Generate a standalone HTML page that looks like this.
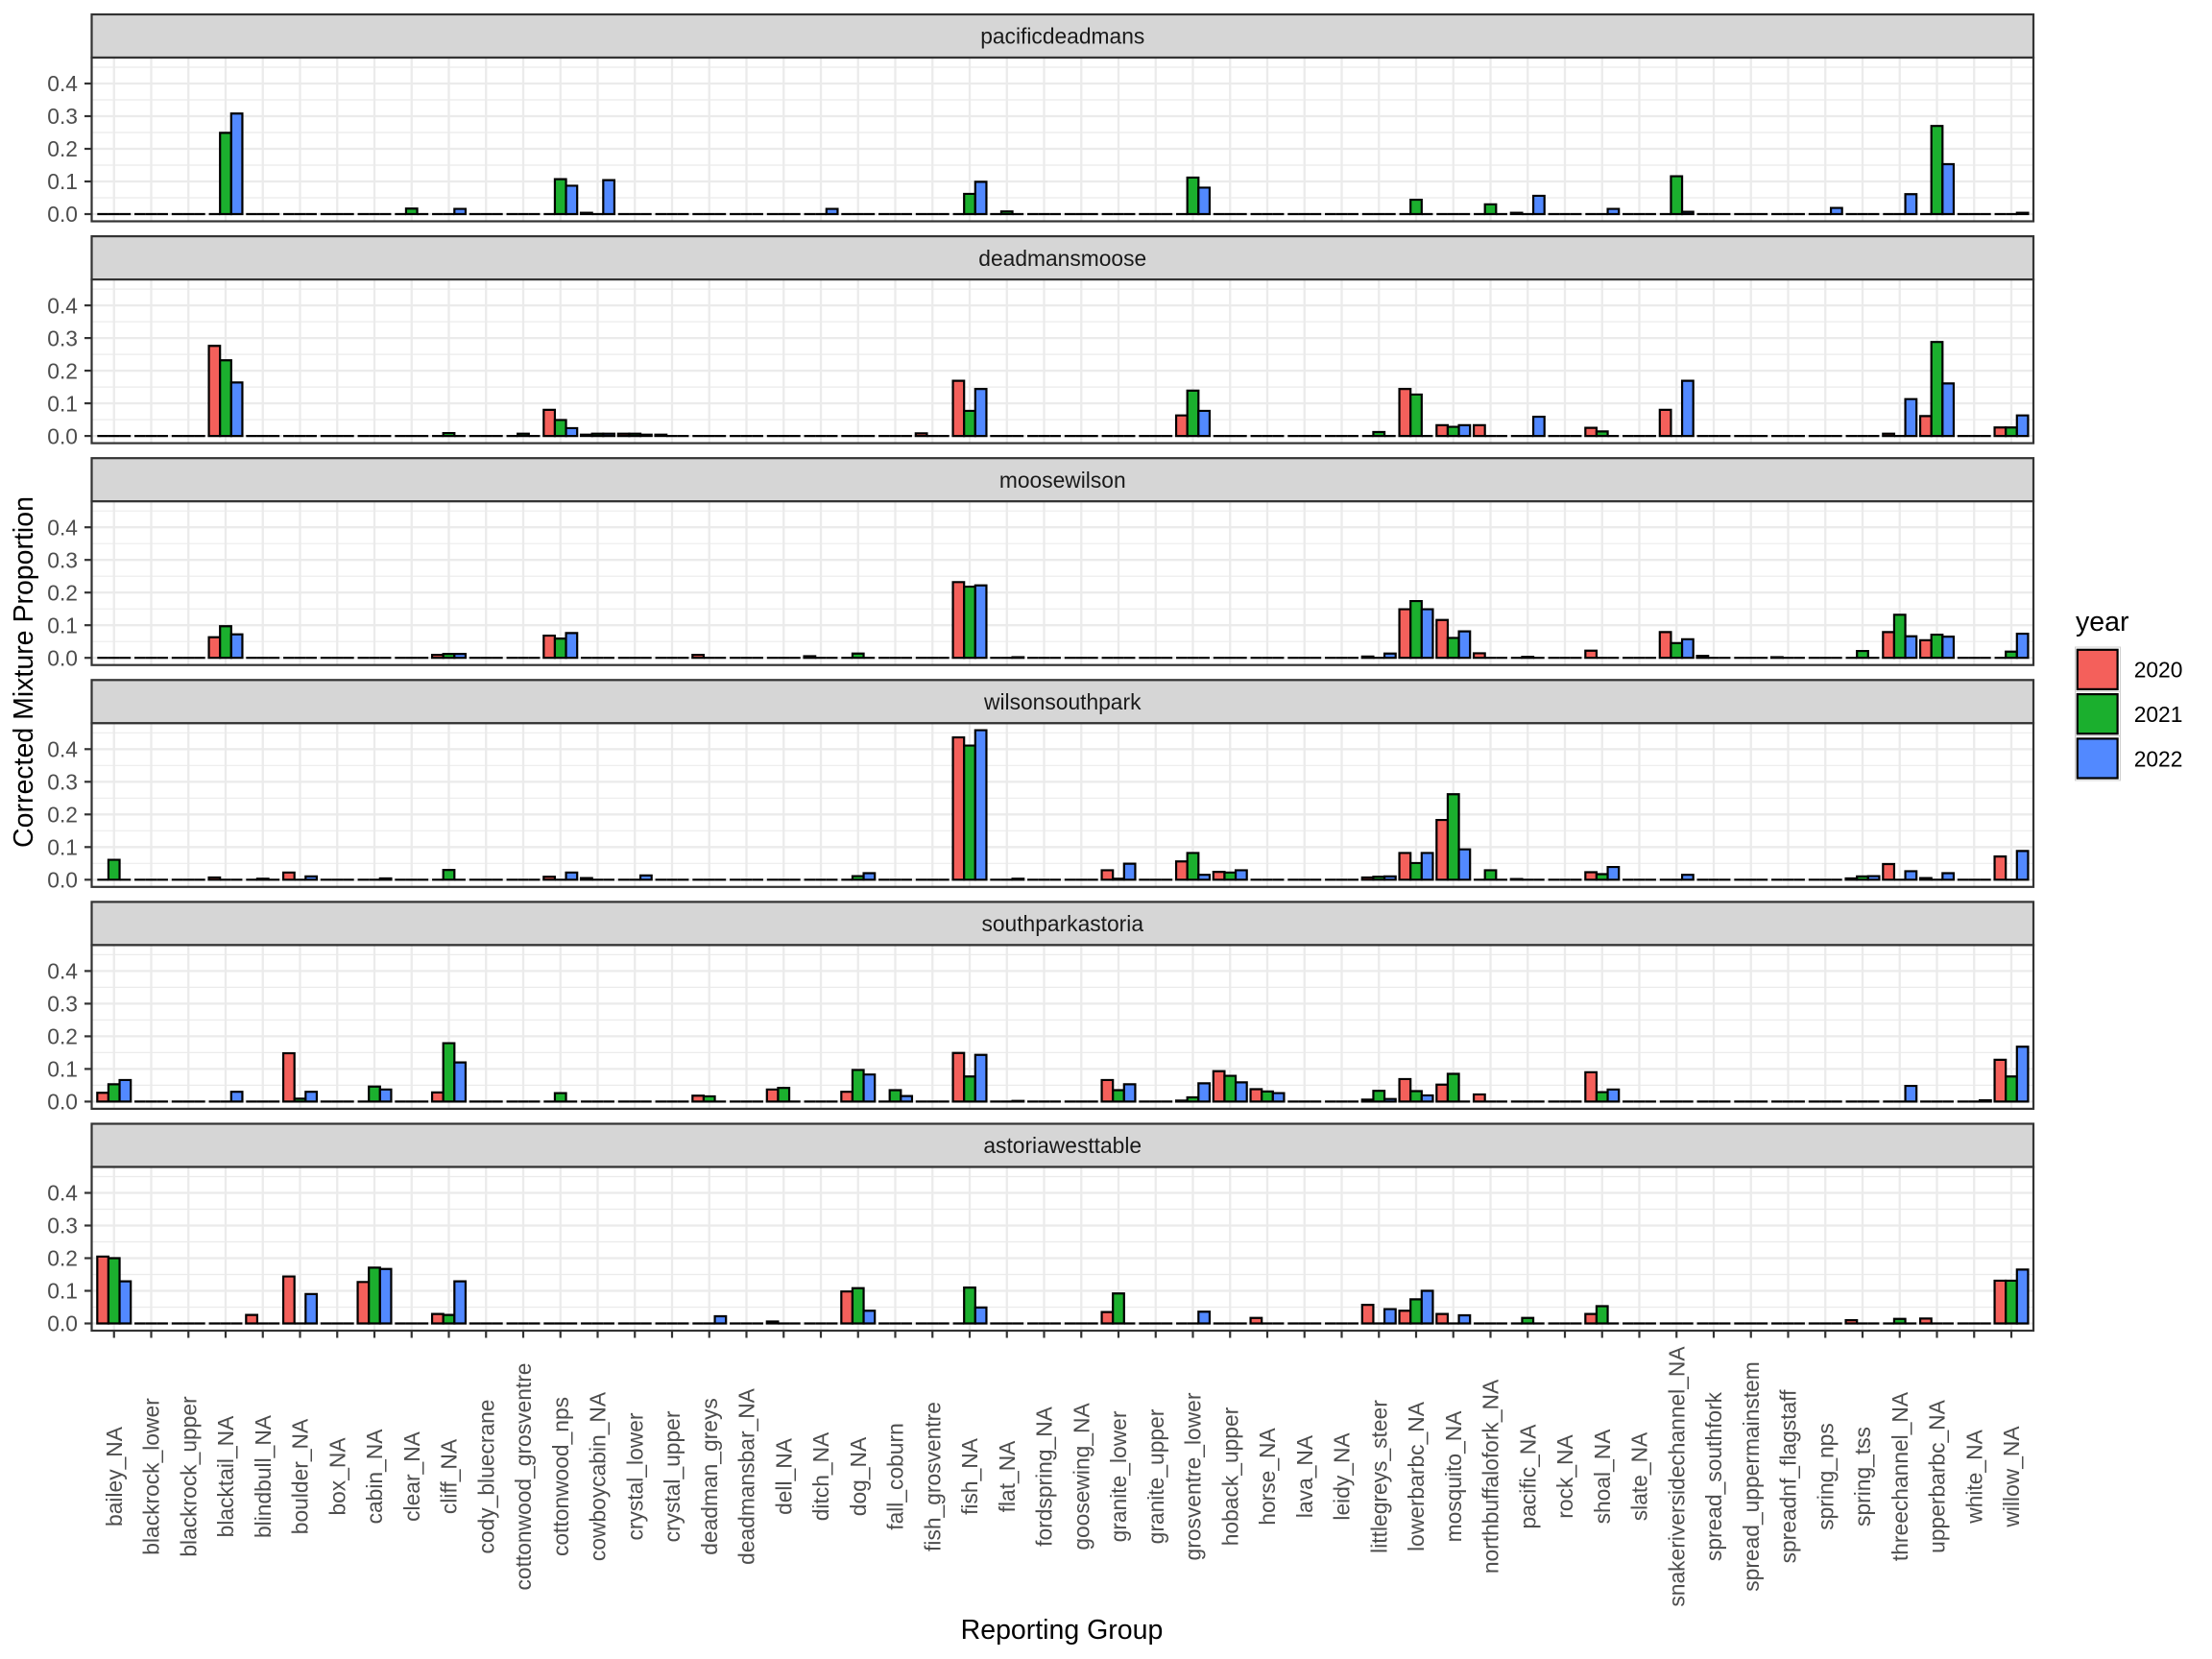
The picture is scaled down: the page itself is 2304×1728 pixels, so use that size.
<!DOCTYPE html>
<html><head><meta charset="utf-8"><style>
html,body{margin:0;padding:0;background:#fff;}
svg{display:block;font-family:"Liberation Sans",Arial,sans-serif;}
.yl{font-size:22.8px;fill:#4D4D4D;text-anchor:end;}
.st{font-size:22.8px;fill:#1A1A1A;text-anchor:middle;}
.xl{font-size:22.8px;fill:#4D4D4D;text-anchor:middle;}
</style></head><body>
<svg id="s" width="2304" height="1728" viewBox="0 0 2304 1728" xmlns="http://www.w3.org/2000/svg">
<rect x="0" y="0" width="2304" height="1728" fill="#fff"/>

<g transform="translate(0,0)">
<rect x="95.5" y="15" width="2022.5" height="45" fill="#D6D6D6" stroke="#333" stroke-width="2.2"/>
<rect x="95.5" y="60" width="2022.5" height="170.5" fill="#fff"/>
<g id="grid0"></g><g id="bars0"></g>
<rect x="95.5" y="60" width="2022.5" height="170.5" fill="none" stroke="#333" stroke-width="2.2"/>
<text class="st" x="1106.75" y="45.7">pacificdeadmans</text>
<text class="yl" x="81" y="231.2">0.0</text><text class="yl" x="81" y="197.2">0.1</text><text class="yl" x="81" y="163.2">0.2</text><text class="yl" x="81" y="129.2">0.3</text><text class="yl" x="81" y="95.2">0.4</text>
</g>

<g transform="translate(0,231.1)">
<rect x="95.5" y="15" width="2022.5" height="45" fill="#D6D6D6" stroke="#333" stroke-width="2.2"/>
<rect x="95.5" y="60" width="2022.5" height="170.5" fill="#fff"/>
<g id="grid1"></g><g id="bars1"></g>
<rect x="95.5" y="60" width="2022.5" height="170.5" fill="none" stroke="#333" stroke-width="2.2"/>
<text class="st" x="1106.75" y="45.7">deadmansmoose</text>
<text class="yl" x="81" y="231.2">0.0</text><text class="yl" x="81" y="197.2">0.1</text><text class="yl" x="81" y="163.2">0.2</text><text class="yl" x="81" y="129.2">0.3</text><text class="yl" x="81" y="95.2">0.4</text>
</g>

<g transform="translate(0,462.2)">
<rect x="95.5" y="15" width="2022.5" height="45" fill="#D6D6D6" stroke="#333" stroke-width="2.2"/>
<rect x="95.5" y="60" width="2022.5" height="170.5" fill="#fff"/>
<g id="grid2"></g><g id="bars2"></g>
<rect x="95.5" y="60" width="2022.5" height="170.5" fill="none" stroke="#333" stroke-width="2.2"/>
<text class="st" x="1106.75" y="45.7">moosewilson</text>
<text class="yl" x="81" y="231.2">0.0</text><text class="yl" x="81" y="197.2">0.1</text><text class="yl" x="81" y="163.2">0.2</text><text class="yl" x="81" y="129.2">0.3</text><text class="yl" x="81" y="95.2">0.4</text>
</g>

<g transform="translate(0,693.3)">
<rect x="95.5" y="15" width="2022.5" height="45" fill="#D6D6D6" stroke="#333" stroke-width="2.2"/>
<rect x="95.5" y="60" width="2022.5" height="170.5" fill="#fff"/>
<g id="grid3"></g><g id="bars3"></g>
<rect x="95.5" y="60" width="2022.5" height="170.5" fill="none" stroke="#333" stroke-width="2.2"/>
<text class="st" x="1106.75" y="45.7">wilsonsouthpark</text>
<text class="yl" x="81" y="231.2">0.0</text><text class="yl" x="81" y="197.2">0.1</text><text class="yl" x="81" y="163.2">0.2</text><text class="yl" x="81" y="129.2">0.3</text><text class="yl" x="81" y="95.2">0.4</text>
</g>

<g transform="translate(0,924.4)">
<rect x="95.5" y="15" width="2022.5" height="45" fill="#D6D6D6" stroke="#333" stroke-width="2.2"/>
<rect x="95.5" y="60" width="2022.5" height="170.5" fill="#fff"/>
<g id="grid4"></g><g id="bars4"></g>
<rect x="95.5" y="60" width="2022.5" height="170.5" fill="none" stroke="#333" stroke-width="2.2"/>
<text class="st" x="1106.75" y="45.7">southparkastoria</text>
<text class="yl" x="81" y="231.2">0.0</text><text class="yl" x="81" y="197.2">0.1</text><text class="yl" x="81" y="163.2">0.2</text><text class="yl" x="81" y="129.2">0.3</text><text class="yl" x="81" y="95.2">0.4</text>
</g>

<g transform="translate(0,1155.5)">
<rect x="95.5" y="15" width="2022.5" height="45" fill="#D6D6D6" stroke="#333" stroke-width="2.2"/>
<rect x="95.5" y="60" width="2022.5" height="170.5" fill="#fff"/>
<g id="grid5"></g><g id="bars5"></g>
<rect x="95.5" y="60" width="2022.5" height="170.5" fill="none" stroke="#333" stroke-width="2.2"/>
<text class="st" x="1106.75" y="45.7">astoriawesttable</text>
<text class="yl" x="81" y="231.2">0.0</text><text class="yl" x="81" y="197.2">0.1</text><text class="yl" x="81" y="163.2">0.2</text><text class="yl" x="81" y="129.2">0.3</text><text class="yl" x="81" y="95.2">0.4</text>
</g>

<g id="xticks"></g>

<g>
<text class="xl" transform="translate(126.75,1538) rotate(-90)">bailey_NA</text>
<text class="xl" transform="translate(165.5,1538) rotate(-90)">blackrock_lower</text>
<text class="xl" transform="translate(204.25,1538) rotate(-90)">blackrock_upper</text>
<text class="xl" transform="translate(243,1538) rotate(-90)">blacktail_NA</text>
<text class="xl" transform="translate(281.75,1538) rotate(-90)">blindbull_NA</text>
<text class="xl" transform="translate(320.5,1538) rotate(-90)">boulder_NA</text>
<text class="xl" transform="translate(359.25,1538) rotate(-90)">box_NA</text>
<text class="xl" transform="translate(398,1538) rotate(-90)">cabin_NA</text>
<text class="xl" transform="translate(436.75,1538) rotate(-90)">clear_NA</text>
<text class="xl" transform="translate(475.5,1538) rotate(-90)">cliff_NA</text>
<text class="xl" transform="translate(514.25,1538) rotate(-90)">cody_bluecrane</text>
<text class="xl" transform="translate(553,1538) rotate(-90)">cottonwood_grosventre</text>
<text class="xl" transform="translate(591.75,1538) rotate(-90)">cottonwood_nps</text>
<text class="xl" transform="translate(630.5,1538) rotate(-90)">cowboycabin_NA</text>
<text class="xl" transform="translate(669.25,1538) rotate(-90)">crystal_lower</text>
<text class="xl" transform="translate(708,1538) rotate(-90)">crystal_upper</text>
<text class="xl" transform="translate(746.75,1538) rotate(-90)">deadman_greys</text>
<text class="xl" transform="translate(785.5,1538) rotate(-90)">deadmansbar_NA</text>
<text class="xl" transform="translate(824.25,1538) rotate(-90)">dell_NA</text>
<text class="xl" transform="translate(863,1538) rotate(-90)">ditch_NA</text>
<text class="xl" transform="translate(901.75,1538) rotate(-90)">dog_NA</text>
<text class="xl" transform="translate(940.5,1538) rotate(-90)">fall_coburn</text>
<text class="xl" transform="translate(979.25,1538) rotate(-90)">fish_grosventre</text>
<text class="xl" transform="translate(1018,1538) rotate(-90)">fish_NA</text>
<text class="xl" transform="translate(1056.75,1538) rotate(-90)">flat_NA</text>
<text class="xl" transform="translate(1095.5,1538) rotate(-90)">fordspring_NA</text>
<text class="xl" transform="translate(1134.25,1538) rotate(-90)">goosewing_NA</text>
<text class="xl" transform="translate(1173,1538) rotate(-90)">granite_lower</text>
<text class="xl" transform="translate(1211.75,1538) rotate(-90)">granite_upper</text>
<text class="xl" transform="translate(1250.5,1538) rotate(-90)">grosventre_lower</text>
<text class="xl" transform="translate(1289.25,1538) rotate(-90)">hoback_upper</text>
<text class="xl" transform="translate(1328,1538) rotate(-90)">horse_NA</text>
<text class="xl" transform="translate(1366.75,1538) rotate(-90)">lava_NA</text>
<text class="xl" transform="translate(1405.5,1538) rotate(-90)">leidy_NA</text>
<text class="xl" transform="translate(1444.25,1538) rotate(-90)">littlegreys_steer</text>
<text class="xl" transform="translate(1483,1538) rotate(-90)">lowerbarbc_NA</text>
<text class="xl" transform="translate(1521.75,1538) rotate(-90)">mosquito_NA</text>
<text class="xl" transform="translate(1560.5,1538) rotate(-90)">northbuffalofork_NA</text>
<text class="xl" transform="translate(1599.25,1538) rotate(-90)">pacific_NA</text>
<text class="xl" transform="translate(1638,1538) rotate(-90)">rock_NA</text>
<text class="xl" transform="translate(1676.75,1538) rotate(-90)">shoal_NA</text>
<text class="xl" transform="translate(1715.5,1538) rotate(-90)">slate_NA</text>
<text class="xl" transform="translate(1754.25,1538) rotate(-90)">snakeriversidechannel_NA</text>
<text class="xl" transform="translate(1793,1538) rotate(-90)">spread_southfork</text>
<text class="xl" transform="translate(1831.75,1538) rotate(-90)">spread_uppermainstem</text>
<text class="xl" transform="translate(1870.5,1538) rotate(-90)">spreadnf_flagstaff</text>
<text class="xl" transform="translate(1909.25,1538) rotate(-90)">spring_nps</text>
<text class="xl" transform="translate(1948,1538) rotate(-90)">spring_tss</text>
<text class="xl" transform="translate(1986.75,1538) rotate(-90)">threechannel_NA</text>
<text class="xl" transform="translate(2025.5,1538) rotate(-90)">upperbarbc_NA</text>
<text class="xl" transform="translate(2064.25,1538) rotate(-90)">white_NA</text>
<text class="xl" transform="translate(2103,1538) rotate(-90)">willow_NA</text>
</g>

<text x="1106" y="1707" font-size="28.5" fill="#000" text-anchor="middle">Reporting Group</text>
<text transform="translate(34,700) rotate(-90)" font-size="28.5" fill="#000" text-anchor="middle">Corrected Mixture Proportion</text>

<g>
<text x="2162" y="657" font-size="28.5" fill="#000">year</text>
<rect x="2161.5" y="674" width="47" height="46.3" fill="#fff" stroke="#D0D0D0" stroke-width="1"/>
<rect x="2161.5" y="720.3" width="47" height="46.3" fill="#fff" stroke="#D0D0D0" stroke-width="1"/>
<rect x="2161.5" y="766.6" width="47" height="46.3" fill="#fff" stroke="#D0D0D0" stroke-width="1"/>
<rect x="2163.8" y="676.8" width="41.8" height="41.1" fill="#F4605B" stroke="#000" stroke-width="2.2"/>
<rect x="2163.8" y="723.1" width="41.8" height="41.1" fill="#1BAF2E" stroke="#000" stroke-width="2.2"/>
<rect x="2163.8" y="769.4" width="41.8" height="41.1" fill="#5289FF" stroke="#000" stroke-width="2.2"/>
<text x="2222.7" y="705.7" font-size="22.8" fill="#000">2020</text>
<text x="2222.7" y="752" font-size="22.8" fill="#000">2021</text>
<text x="2222.7" y="798.3" font-size="22.8" fill="#000">2022</text>
</g>
</svg>
<script>
(function(){
var NS='http://www.w3.org/2000/svg';
function el(t,a,p){var e=document.createElementNS(NS,t);for(var k in a)e.setAttribute(k,a[k]);p.appendChild(e);return e;}
function cx(i){return 80+38.75*i;}
var L=95.5,R=2118,T=60,B=230.5,Z=223,W=11.625;
var cols=['#F4605B','#1BAF2E','#5289FF'];
var data=[
{4:[0,.249,.308],9:[0,.017,0],10:[0,0,.016],13:[0,.107,.087],14:[.004,0,.104],20:[0,0,.016],24:[0,.062,.099],25:[0,.008,0],30:[0,.112,.081],36:[0,.044,0],38:[0,.030,0],39:[.004,0,.056],41:[0,0,.016],43:[0,.116,.007],47:[0,0,.019],49:[0,0,.061],50:[0,.270,.153],52:[0,0,.004]},
{4:[.276,.232,.164],10:[0,.009,0],12:[0,.007,0],13:[.080,.049,.024],14:[.004,.007,.007],15:[.007,.007,.004],16:[.004,0,0],23:[.008,0,0],24:[.169,.077,.144],30:[.063,.139,.077],35:[0,.012,0],36:[.144,.127,0],37:[.033,.028,.033],38:[.033,0,0],39:[0,0,.059],41:[.025,.014,0],43:[.080,0,.169],49:[.007,0,.113],50:[.061,.288,.161],52:[.026,.026,.063]},
{4:[.063,.097,.072],10:[.009,.012,.012],13:[.068,.059,.076],17:[.009,0,0],20:[.005,0,0],21:[0,.013,0],24:[.232,.218,.222],25:[0,0,.002],35:[.004,0,.013],36:[.149,.174,.149],37:[.116,.061,.081],38:[.014,0,0],39:[0,.003,0],41:[.022,0,0],43:[.079,.045,.057],44:[.006,0,0],46:[.002,0,0],48:[0,.021,0],49:[.079,.132,.066],50:[.054,.071,.065],52:[0,.019,.074]},
{1:[0,.061,0],4:[.007,0,0],5:[0,.003,0],6:[.022,0,.010],8:[0,0,.004],10:[0,.030,0],13:[.009,0,.022],14:[.005,0,0],15:[0,0,.013],21:[0,.011,.020],24:[.436,.411,.458],25:[0,0,.003],28:[.029,.003,.049],30:[.056,.082,.015],31:[.024,.022,.029],35:[.007,.009,.010],36:[.082,.051,.082],37:[.183,.262,.093],38:[0,.029,0],39:[.002,0,0],41:[.023,.017,.039],43:[0,0,.015],48:[.004,.010,.011],49:[.048,0,.026],50:[.005,0,.020],52:[.071,0,.088]},
{1:[.027,.053,.066],4:[0,0,.030],6:[.148,.009,.030],8:[0,.046,.037],10:[.028,.179,.120],13:[0,.026,0],17:[.018,.016,0],19:[.037,.042,0],21:[.030,.097,.083],22:[0,.035,.017],24:[.149,.077,.143],25:[0,0,.002],28:[.066,.035,.053],30:[.003,.013,.056],31:[.093,.079,.059],32:[.038,.031,.026],35:[.006,.033,.008],36:[.069,.032,.019],37:[.052,.085,0],38:[.022,0,0],41:[.090,.029,.037],49:[0,0,.048],51:[0,0,.004],52:[.128,.077,.168]},
{1:[.205,.200,.129],5:[.026,0,0],6:[.144,0,.090],8:[.127,.171,.167],10:[.029,.026,.129],17:[0,0,.022],19:[.006,0,0],21:[.098,.108,.039],24:[0,.110,.049],28:[.035,.092,0],30:[0,0,.036],32:[.017,0,0],35:[.057,0,.044],36:[.039,.074,.100],37:[.029,0,.025],39:[0,.017,0],41:[.029,.053,0],48:[.010,0,0],49:[0,.014,0],50:[.015,0,0],52:[.131,.131,.165]}
];
for(var k=0;k<6;k++){
  var g=document.getElementById('grid'+k), b=document.getElementById('bars'+k), n, y, i, j;
  for(n=0;n<5;n++){y=Z-17-34*n;el('line',{x1:L,x2:R,y1:y,y2:y,stroke:'#EBEBEB','stroke-width':1.2},g);}
  for(n=0;n<5;n++){y=Z-34*n;el('line',{x1:L,x2:R,y1:y,y2:y,stroke:'#EBEBEB','stroke-width':2.3},g);}
  for(i=1;i<=52;i++){el('line',{x1:cx(i),x2:cx(i),y1:T,y2:B,stroke:'#EBEBEB','stroke-width':2.3},g);}
  var d=data[k];
  for(i=1;i<=52;i++){
    var v=d[i]||[0,0,0];
    for(j=0;j<3;j++){
      var h=v[j]*340, x=cx(i)+(j-1.5)*W;
      el('path',{d:'M'+x+' '+Z+'V'+(Z-h)+'H'+(x+W)+'V'+Z+'Z',fill:cols[j],stroke:'#000','stroke-width':2.2,'stroke-linejoin':'miter'},b);
    }
  }
  for(n=0;n<5;n++){y=Z-34*n;el('line',{x1:88,x2:95.5,y1:y,y2:y,stroke:'#333','stroke-width':2.2},b);}
}
var xt=document.getElementById('xticks');
for(var i2=1;i2<=52;i2++){el('line',{x1:cx(i2),x2:cx(i2),y1:1386,y2:1393.5,stroke:'#333','stroke-width':2.2},xt);}
})();
</script>
</body></html>
